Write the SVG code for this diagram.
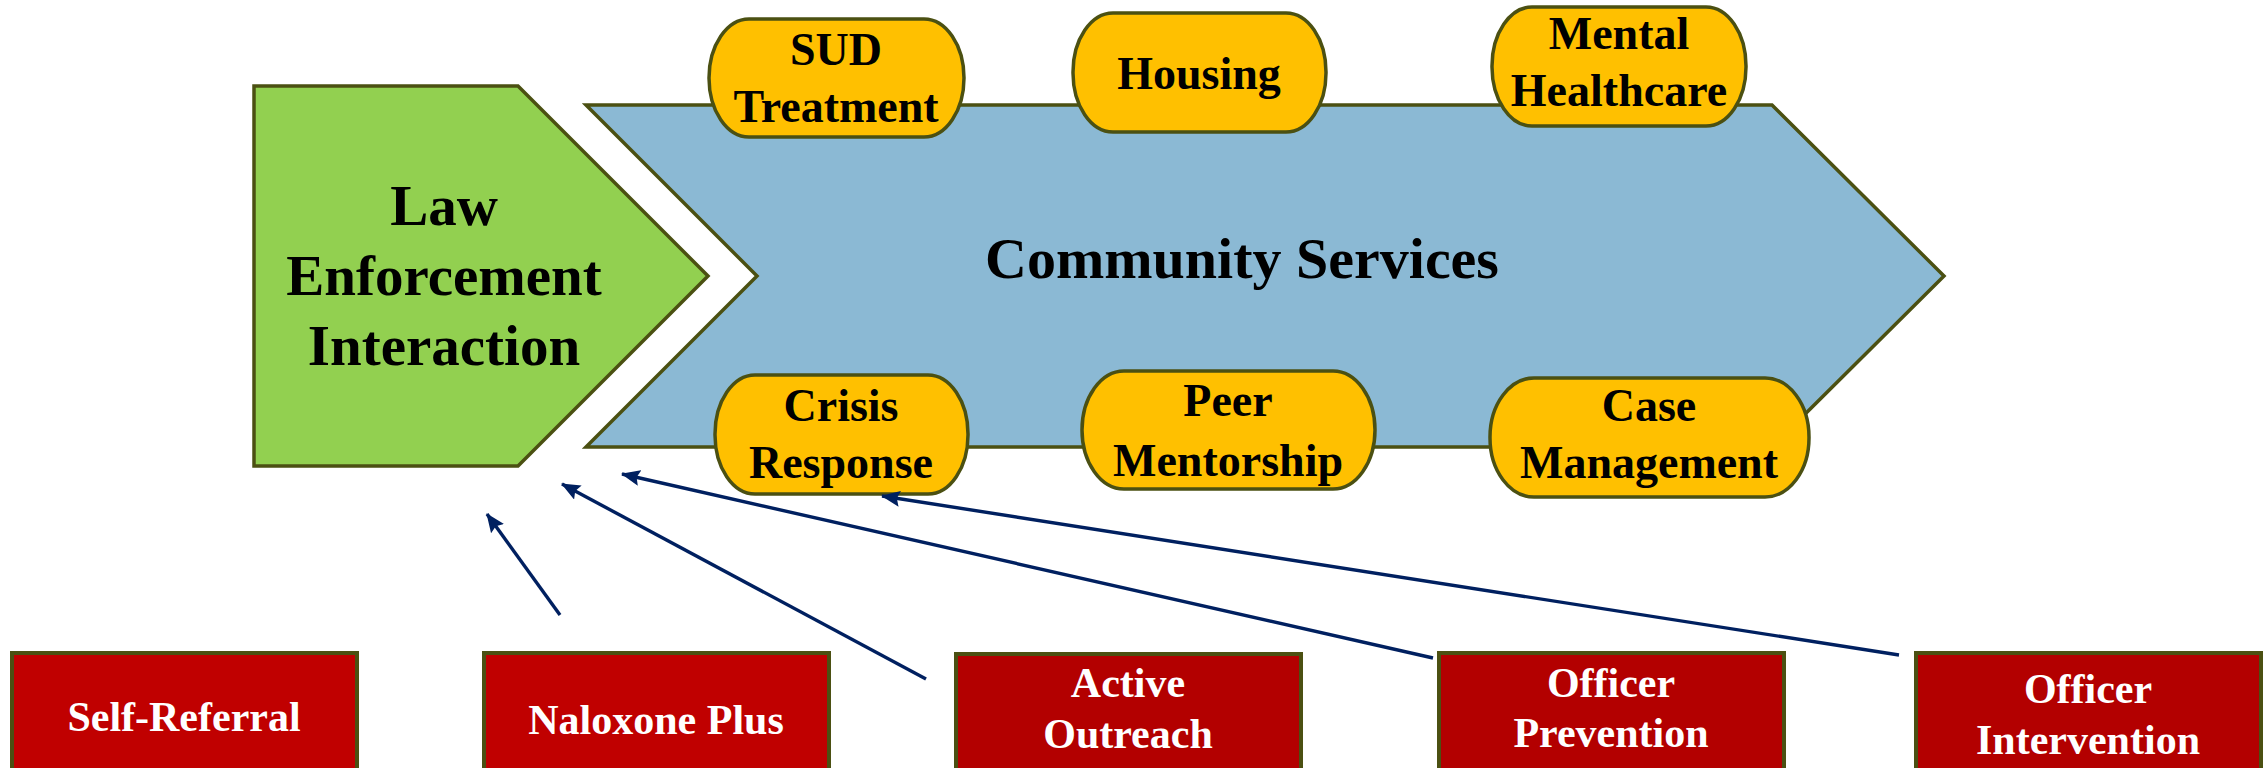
<svg xmlns="http://www.w3.org/2000/svg" width="2267" height="768" viewBox="0 0 2267 768">
<style>
.shape{stroke:#4B5012;stroke-width:3.5;stroke-linejoin:miter}
.pill{fill:#FFC000;stroke:#4B5012;stroke-width:3.5}
.red{stroke:#4B5012;stroke-width:4}
.bt{font-family:"Liberation Serif","Times New Roman",serif;font-weight:bold;text-anchor:middle}
.pt{font-size:46px;fill:#000}
.rt{font-size:42px;fill:#fff}
.conn{stroke:#002060;stroke-width:3.4;fill:none;marker-end:url(#ah)}
</style>
<defs>
<marker id="ah" markerUnits="userSpaceOnUse" markerWidth="20" markerHeight="16" refX="18" refY="8" orient="auto">
<path d="M0,0 L19,8 L0,16 L3,8 z" fill="#002060"/>
</marker>
</defs>
<rect width="2267" height="768" fill="#fff"/>
<g id="community-services">
<polygon class="shape" fill="#8BB9D4" points="586,105 1772,105 1944,276 1772,447 586,447 757,276"/>
<text class="bt" x="1242" y="278" font-size="58">Community Services</text>
</g>
<g id="law-enforcement">
<polygon class="shape" fill="#92D050" points="254,86 518,86 708,276 518,466 254,466"/>
<text class="bt" font-size="57" x="444" y="225">Law</text>
<text class="bt" font-size="57" x="444" y="295">Enforcement</text>
<text class="bt" font-size="57" x="444" y="365">Interaction</text>
</g>
<g id="sud-treatment">
<rect class="pill" x="709" y="19" width="255" height="118" rx="40" ry="59"/>
<text class="bt pt" x="836" y="65">SUD</text>
<text class="bt pt" x="836" y="122">Treatment</text>
</g>
<g id="housing">
<rect class="pill" x="1073" y="13" width="253" height="119" rx="40" ry="59"/>
<text class="bt pt" x="1199" y="89">Housing</text>
</g>
<g id="mental-healthcare">
<rect class="pill" x="1492" y="7" width="254" height="119" rx="40" ry="59"/>
<text class="bt pt" x="1619" y="49">Mental</text>
<text class="bt pt" x="1619" y="106">Healthcare</text>
</g>
<g id="crisis-response">
<rect class="pill" x="715" y="375" width="253" height="119" rx="40" ry="59"/>
<text class="bt pt" x="841" y="421">Crisis</text>
<text class="bt pt" x="841" y="478">Response</text>
</g>
<g id="peer-mentorship">
<rect class="pill" x="1082" y="371" width="293" height="118" rx="42" ry="59"/>
<text class="bt pt" x="1228" y="416">Peer</text>
<text class="bt pt" x="1228" y="476">Mentorship</text>
</g>
<g id="case-management">
<rect class="pill" x="1490" y="378" width="319" height="119" rx="44" ry="59"/>
<text class="bt pt" x="1649" y="421">Case</text>
<text class="bt pt" x="1649" y="478">Management</text>
</g>
<g id="connectors">
<line class="conn" x1="560" y1="615" x2="487" y2="514"/>
<line class="conn" x1="926" y1="679" x2="562" y2="484"/>
<line class="conn" x1="1433" y1="658" x2="622" y2="474"/>
<line class="conn" x1="1899" y1="655" x2="882" y2="496"/>
</g>
<g id="self-referral">
<rect class="red" fill="#C00000" x="12" y="653" width="345" height="140"/>
<text class="bt rt" x="184" y="731">Self-Referral</text>
</g>
<g id="naloxone-plus">
<rect class="red" fill="#C00000" x="484" y="653" width="345" height="140"/>
<text class="bt rt" x="656" y="734">Naloxone Plus</text>
</g>
<g id="active-outreach">
<rect class="red" fill="#B30000" x="956" y="654" width="345" height="140"/>
<text class="bt rt" x="1128" y="697">Active</text>
<text class="bt rt" x="1128" y="748">Outreach</text>
</g>
<g id="officer-prevention">
<rect class="red" fill="#B30000" x="1439" y="653" width="345" height="140"/>
<text class="bt rt" x="1611" y="697">Officer</text>
<text class="bt rt" x="1611" y="747">Prevention</text>
</g>
<g id="officer-intervention">
<rect class="red" fill="#B30000" x="1916" y="653" width="345" height="140"/>
<text class="bt rt" x="2088" y="703">Officer</text>
<text class="bt rt" x="2088" y="754">Intervention</text>
</g>
</svg>
